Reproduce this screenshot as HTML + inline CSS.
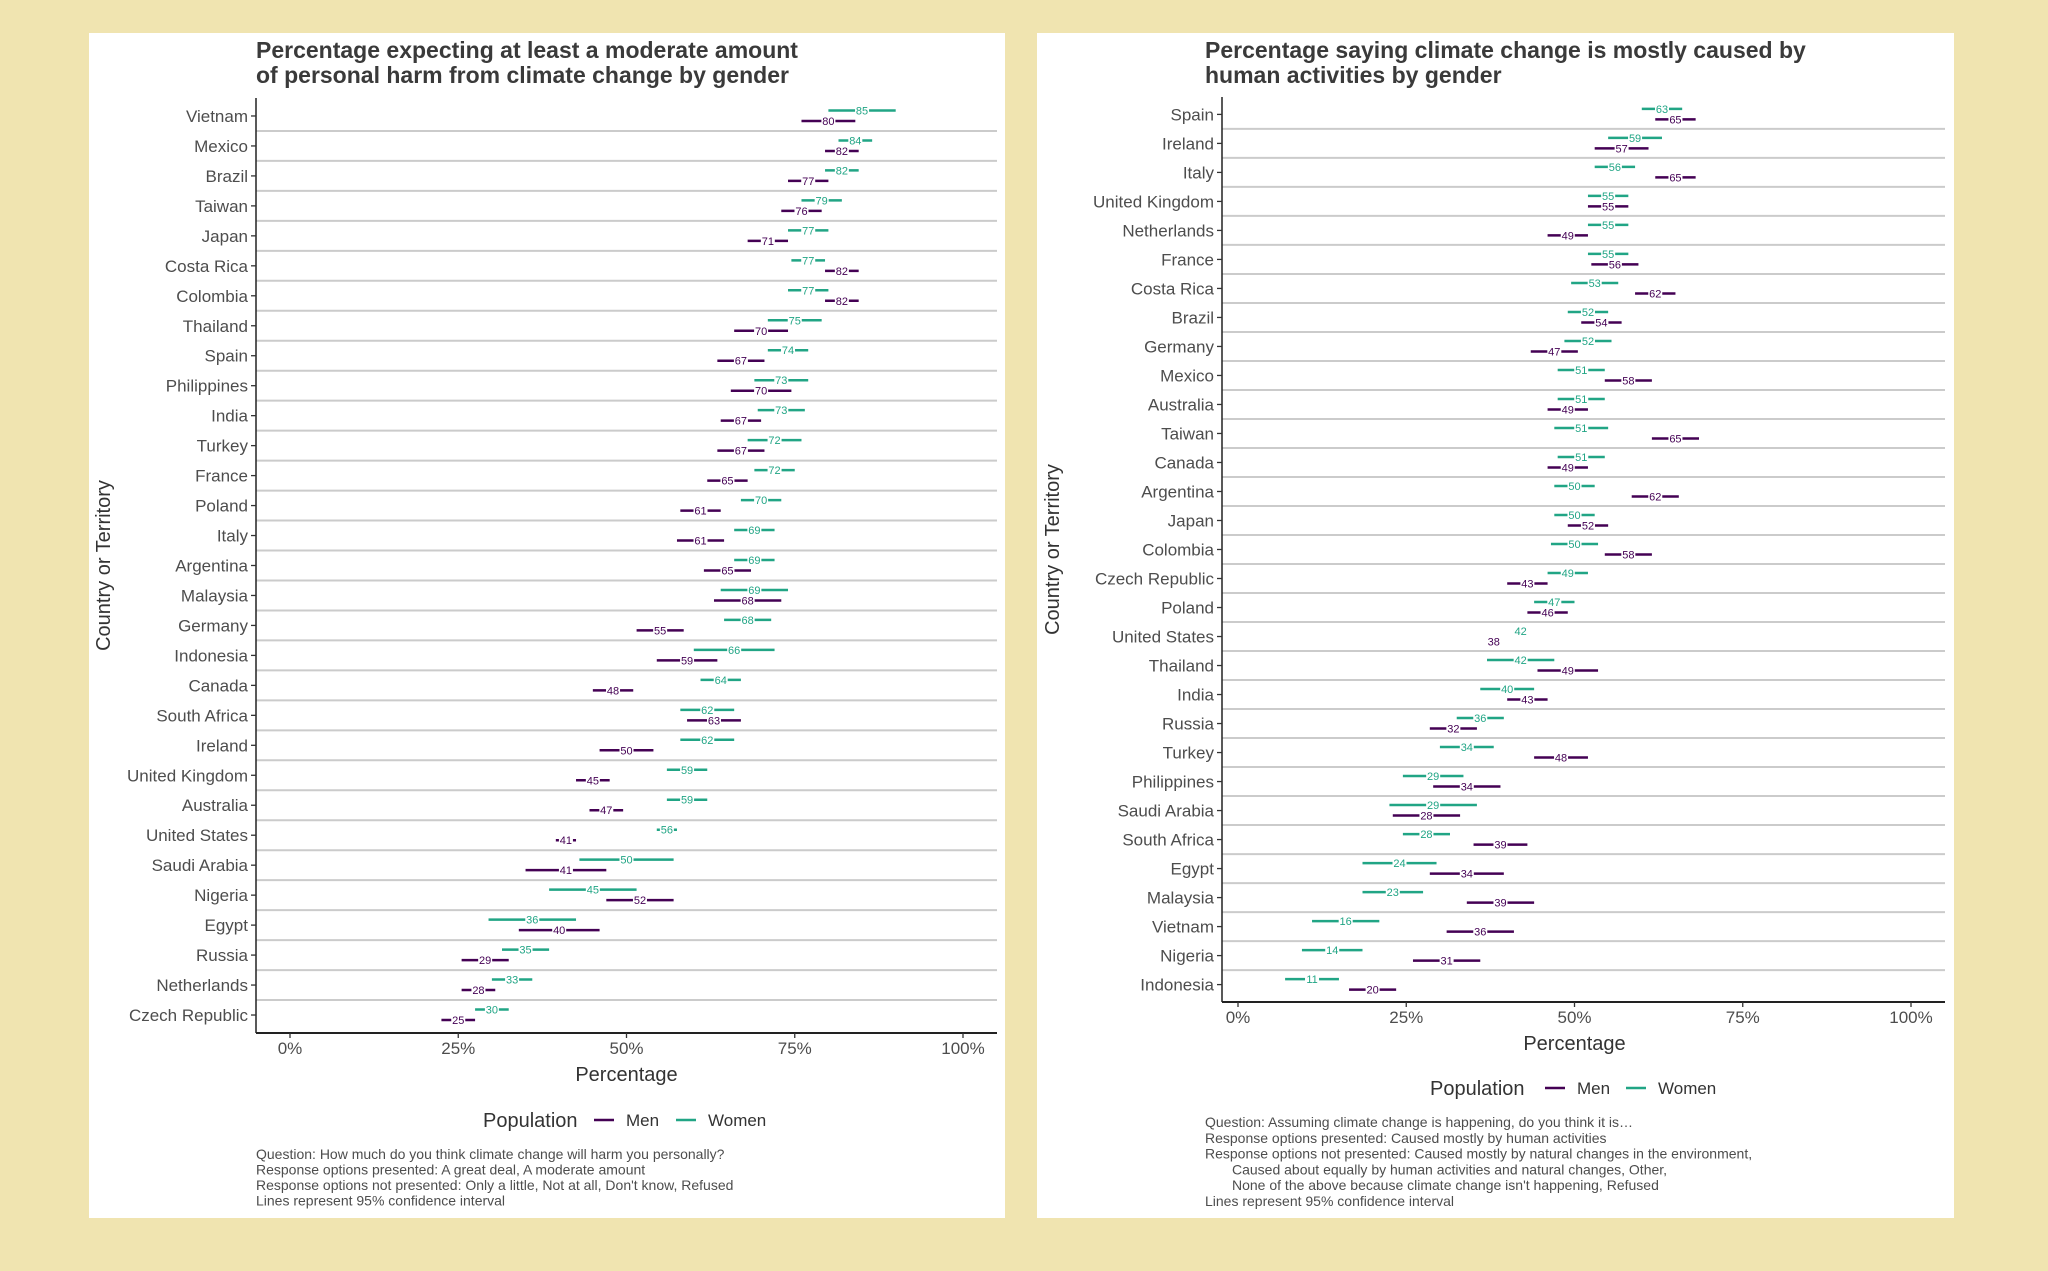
<!DOCTYPE html>
<html><head><meta charset="utf-8"><style>
html,body{margin:0;padding:0;background:#f0e4b0;}
svg{display:block;font-family:"Liberation Sans",Arial,sans-serif;}
</style></head><body>
<svg id="chart" width="2048" height="1271" viewBox="0 0 2048 1271">
<rect x="0" y="0" width="2048" height="1271" fill="#f0e4b0"/>
<rect x="89" y="33" width="916" height="1185" fill="#fff"/>
<rect x="1037" y="33" width="917" height="1185" fill="#fff"/>
</svg>
<script>
// ---- Left chart data (personal harm) ----
const harmCountries = ["Vietnam","Mexico","Brazil","Taiwan","Japan","Costa Rica","Colombia","Thailand","Spain","Philippines","India","Turkey","France","Poland","Italy","Argentina","Malaysia","Germany","Indonesia","Canada","South Africa","Ireland","United Kingdom","Australia","United States","Saudi Arabia","Nigeria","Egypt","Russia","Netherlands","Czech Republic"];
const harmWomen = [85,84,82,79,77,77,77,75,74,73,73,72,72,70,69,69,69,68,66,64,62,62,59,59,56,50,45,36,35,33,30];
const harmWomenCI = [5,2.5,2.5,3,3,2.5,3,4,3,4,3.5,4,3,3,3,3,5,3.5,6,3,4,4,3,3,1.5,7,6.5,6.5,3.5,3,2.5];
const harmMen = [80,82,77,76,71,82,82,70,67,70,67,67,65,61,61,65,68,55,59,48,63,50,45,47,41,41,52,40,29,28,25];
const harmMenCI = [4,2.5,3,3,3,2.5,2.5,4,3.5,4.5,3,3.5,3,3,3.5,3.5,5,3.5,4.5,3,4,4,2.5,2.5,1.5,6,5,6,3.5,2.5,2.5];
// ---- Right chart data (human cause) ----
const causeCountries = ["Spain","Ireland","Italy","United Kingdom","Netherlands","France","Costa Rica","Brazil","Germany","Mexico","Australia","Taiwan","Canada","Argentina","Japan","Colombia","Czech Republic","Poland","United States","Thailand","India","Russia","Turkey","Philippines","Saudi Arabia","South Africa","Egypt","Malaysia","Vietnam","Nigeria","Indonesia"];
const causeWomen = [63,59,56,55,55,55,53,52,52,51,51,51,51,50,50,50,49,47,42,42,40,36,34,29,29,28,24,23,16,14,11];
const causeWomenCI = [3,4,3,3,3,3,3.5,3,3.5,3.5,3.5,4,3.5,3,3,3.5,3,3,1,5,4,3.5,4,4.5,6.5,3.5,5.5,4.5,5,4.5,4];
const causeMen = [65,57,65,55,49,56,62,54,47,58,49,65,49,62,52,58,43,46,38,49,43,32,48,34,28,39,34,39,36,31,20];
const causeMenCI = [3,4,3,3,3,3.5,3,3,3.5,3.5,3,3.5,3,3.5,3,3.5,3,3,1,4.5,3,3.5,4,5,5,4,5.5,5,5,5,3.5];
const tickValues = [0,25,50,75,100];
const tickLabels = ["0%","25%","50%","75%","100%"];

const NS="http://www.w3.org/2000/svg";
const svg=document.getElementById('chart');
const MEN="#440154", WOMEN="#21a585";
function el(tag,attrs,parent){const e=document.createElementNS(NS,tag);for(const k in attrs)e.setAttribute(k,attrs[k]);(parent||svg).appendChild(e);return e;}

function drawPanel(cfg,countries,women,womenCI,men,menCI){
  const g=el('g',{});
  
  
  const x=v=>cfg.x0+(cfg.x100-cfg.x0)*v/100;
  const n=countries.length;
  const step=(cfg.bottom-cfg.top)/(n-1+1.2);
  const y=i=>cfg.top+step*(0.6+i);
  cfg.title.forEach((t,k)=>{const e=el('text',{x:cfg.titleX,y:58+k*25,'font-size':23,'font-weight':'bold',fill:'#3a3a3a'},g);e.textContent=t;
    
    });
  for(let i=0;i<n-1;i++){const l=el('line',{x1:cfg.axisX,x2:cfg.right,y1:y(i)+step/2,y2:y(i)+step/2,stroke:'#cbcbcb','stroke-width':2},g);
    
    }
  const ya=el('line',{x1:cfg.axisX,x2:cfg.axisX,y1:cfg.top,y2:cfg.bottom,stroke:'#222','stroke-width':1.5},g);
  
  
  const xa=el('line',{x1:cfg.axisX,x2:cfg.right,y1:cfg.bottom,y2:cfg.bottom,stroke:'#222','stroke-width':2},g);
  
  
  tickValues.forEach((v,k)=>{
    el('line',{x1:x(v),x2:x(v),y1:cfg.bottom,y2:cfg.bottom+5,stroke:'#333','stroke-width':1.3},g);
    const t=el('text',{x:x(v),y:cfg.bottom+21,'font-size':17,fill:'#4d4d4d','text-anchor':'middle'},g);t.textContent=tickLabels[k];
    
    
  });
  const xt=el('text',{x:(cfg.x0+cfg.x100)/2,y:cfg.bottom+48,'font-size':20,fill:'#333','text-anchor':'middle'},g);xt.textContent='Percentage';
  
  
  const yt=el('text',{x:0,y:0,'font-size':20,fill:'#333','text-anchor':'middle',transform:`translate(${cfg.yTitleX},${(cfg.top+cfg.bottom)/2}) rotate(-90)`},g);yt.textContent='Country or Territory';
  
  
  countries.forEach((c,i)=>{
    el('line',{x1:cfg.axisX-5,x2:cfg.axisX,y1:y(i),y2:y(i),stroke:'#333','stroke-width':1.3},g);
    const t=el('text',{x:cfg.axisX-8,y:y(i)+6,'font-size':17,fill:'#4d4d4d','text-anchor':'end'},g);t.textContent=c;
    
    
  });
  function series(vals,ci,color,off,name){
    vals.forEach((v,i)=>{
      const yy=y(i)+off;
      const l=el('line',{x1:x(v-ci[i]),x2:x(v+ci[i]),y1:yy,y2:yy,stroke:color,'stroke-width':2.5},g);
      
      
      el('rect',{x:x(v)-7,y:yy-5,width:14,height:10,fill:'#fff'},g);
      const t=el('text',{x:x(v),y:yy+4,'font-size':11,fill:color,'text-anchor':'middle'},g);t.textContent=Math.round(v);
      
      
    });
  }
  series(women,womenCI,WOMEN,-5.5,'women');
  series(men,menCI,MEN,5,'men');
  const L=cfg.legend;
  const p=el('text',{x:L.x,y:L.y+7,'font-size':20,fill:'#333'},g);p.textContent='Population';
  
  
  el('line',{x1:L.mx,x2:L.mx+20,y1:L.y,y2:L.y,stroke:MEN,'stroke-width':2.5},g);
  const m=el('text',{x:L.mx+32,y:L.y+6,'font-size':17,fill:'#333'},g);m.textContent='Men';
  
  
  el('line',{x1:L.wx,x2:L.wx+20,y1:L.y,y2:L.y,stroke:WOMEN,'stroke-width':2.5},g);
  const w=el('text',{x:L.wx+32,y:L.y+6,'font-size':17,fill:'#333'},g);w.textContent='Women';
  
  
  cfg.caption.forEach((c,k)=>{const t=el('text',{x:cfg.titleX+(c[1]||0),y:cfg.capY+k*cfg.capStep,'font-size':14,fill:'#4d4d4d'},g);t.textContent=c[0];
    
    });
}

drawPanel({name:'harm-chart',x0:290,x100:963,axisX:256,right:997,top:98,bottom:1033,titleX:256,yTitleX:110,
  title:["Percentage expecting at least a moderate amount","of personal harm from climate change by gender"],
  legend:{x:483,y:1120,mx:594,wx:676},capY:1159,capStep:15.5,
  caption:[["Question: How much do you think climate change will harm you personally?"],["Response options presented:  A great deal, A moderate amount"],["Response options not presented: Only a little, Not at all, Don't know, Refused"],["Lines represent 95% confidence interval"]]},
  harmCountries,harmWomen,harmWomenCI,harmMen,harmMenCI);

drawPanel({name:'cause-chart',x0:1238,x100:1911,axisX:1222,right:1945,top:97,bottom:1002,titleX:1205,yTitleX:1059,
  title:["Percentage saying climate change is mostly caused by","human activities by gender"],
  legend:{x:1430,y:1088,mx:1545,wx:1626},capY:1127,capStep:15.8,
  caption:[["Question: Assuming climate change is happening, do you think it is…"],["Response options presented:  Caused mostly by human activities"],["Response options not presented: Caused mostly by natural changes in the environment,"],["Caused about equally by human activities and natural changes, Other,",27],["None of the above because climate change isn't happening, Refused",27],["Lines represent 95% confidence interval"]]},
  causeCountries,causeWomen,causeWomenCI,causeMen,causeMenCI);
</script>
</body></html>
